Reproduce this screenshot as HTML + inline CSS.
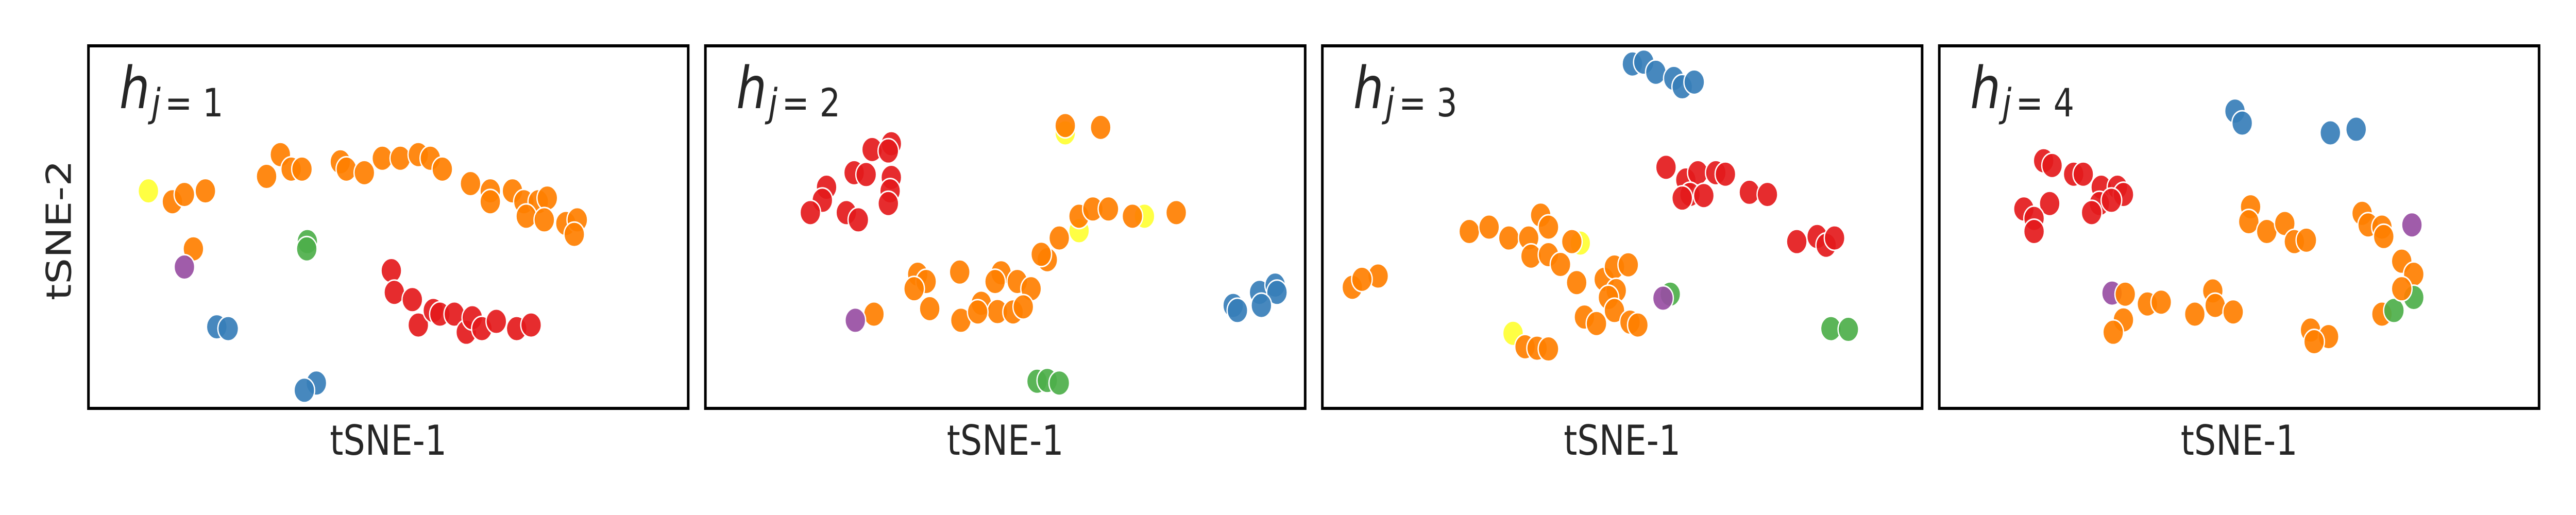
<!DOCTYPE html>
<html><head><meta charset="utf-8"><style>
html,body{margin:0;padding:0;background:#fff;width:100%;height:100%;overflow:hidden;}
svg{display:block;width:100%;height:100%;}
</style></head><body>
<svg id="fig" viewBox="0 0 6000 1000" preserveAspectRatio="none" xmlns="http://www.w3.org/2000/svg">
<text transform="translate(165,447) rotate(-90)" text-anchor="middle" font-family="DejaVu Sans, Liberation Sans, sans-serif" font-size="80" fill="#262626">tSNE-2</text>
</svg>
<script>
// Panel data: x/y in tSNE units (0-100), color class per point
const panelTitles = ['1','2','3','4'];
const colorClasses = ['red','blue','green','purple','orange','yellow'];
const p1x = [10,14,16,19.5,32,29.7,33.8,35.6,42,43,46,49,52,55,57,59,63.7,67,67,70.7,72.6,75,76.5,73,76,79.6,81.5,81,17.5,16,36.5,36.4,50.5,51,54,55,57.5,58.6,61,63,64,65.6,68,71.4,73.8,21.4,23.3,38,36];
const p1y = [60,57,59,60,70,64,66,66,68,66,65,69,69,70,69,66,62,60,57,60,57,57,58,53,52,51,52,48,44,39,46,44,38,32,30,23,27,26,26,21,25,22,24,22,23,22.5,22,7,5];
const p1c = ['yellow','orange','orange','orange','orange','orange','orange','orange','orange','orange','orange','orange','orange','orange','orange','orange','orange','orange','orange','orange','orange','orange','orange','orange','orange','orange','orange','orange','orange','purple','green','green','red','red','red','red','red','red','red','red','red','red','red','red','red','blue','blue','blue','blue'];
const p2x = [27.8,31,30.5,24.8,26.8,31,20.2,19.5,17.5,23.5,25.5,30.8,30.5,60,60,65.9,62.3,73.2,62.3,64.6,67.2,71.2,78.5,59,57,56,35.4,36.8,34.8,37.4,42.4,49.3,48.3,52,54.3,46,48.7,51.3,53,42.6,45.4,28.1,25,55.3,57,59,88,92.4,95,95.3,92.7,88.7];
const p2y = [71.4,73,71,65,64.5,63.7,61,57.4,54,54,52,60,56.5,76,78,77.5,49,53,53,55,55,53,54,47,41,42.5,37,35,33,27.5,37.6,37.4,35,35,33,29,26.7,26.6,28,24.3,26.6,26,24.3,7.5,7.7,7,28.4,32,34,32,28.4,27];
const p2c = ['red','red','red','red','red','red','red','red','red','red','red','red','red','yellow','orange','orange','yellow','yellow','orange','orange','orange','orange','orange','orange','orange','orange','orange','orange','orange','orange','orange','orange','orange','orange','orange','orange','orange','orange','orange','orange','orange','orange','purple','green','green','green','blue','blue','blue','blue','blue','blue'];
const p3x = [51.7,53.6,55.6,58.6,60,62,57.3,60.6,62.6,65.6,67.2,61.3,60,63.6,71.2,74.2,79.1,82.5,84,85.4,24.5,27.8,31.1,34.4,36.4,37.7,34.8,37.7,39.7,43,41.6,42.4,47,48.7,51,49,47.7,48.7,43.7,45.7,51.3,52.6,5,9.3,6.6,31.8,33.8,35.8,37.7,58,56.8,84.8,87.7];
const p3y = [95,95.5,92.7,91,88.7,90,66.5,63,65,65,64.6,59,58,58.7,59.6,59,46,47.4,45,47,48.8,50,47,47,53.3,50,42,42.4,39.7,45.6,46,34.7,35.6,39,39.6,32.5,30.6,27,25.2,23.4,23.8,23,33.4,36.5,35.6,20.7,17,16.6,16.4,31.5,30.4,22,21.8];
const p3c = ['blue','blue','blue','blue','blue','blue','red','red','red','red','red','red','red','red','red','red','red','red','red','red','orange','orange','orange','orange','orange','orange','orange','orange','orange','yellow','orange','orange','orange','orange','orange','orange','orange','orange','orange','orange','orange','orange','orange','orange','orange','yellow','orange','orange','orange','green','purple','green','green'];
const p4x = [49.3,50.5,65.2,69.5,17.4,18.8,22.4,24,27,29.7,30.7,26.7,25.4,28.7,18.4,14.1,15.8,15.8,51.9,51.6,54.6,57.6,59.2,61.2,70.5,71.5,73.8,74.1,78.8,77.1,79.1,73.8,79.1,75.8,77.1,28.8,31,34.7,37,30.7,29,45.6,46,49,42.6,61.9,64.9,62.5];
const p4y = [82,78.7,76,77,68.3,67,64.6,64.6,61,61,59,56.5,54,57.4,56.5,55,52.4,48.8,55.6,51.5,48.8,51,46,46.4,53.8,50.6,50,47.4,50.6,40.6,37,26,30.6,27,33,31.8,31.5,28.8,29.3,24.4,21,32.4,28.4,26.6,26,21.6,19.8,18.4];
const p4c = ['blue','blue','blue','blue','red','red','red','red','red','red','red','red','red','red','red','red','red','red','orange','orange','orange','orange','orange','orange','orange','orange','orange','orange','purple','orange','orange','orange','green','green','orange','purple','orange','orange','orange','orange','orange','orange','orange','orange','orange','orange','orange','orange'];

const palette = {red:'#e41a1c',blue:'#377eb8',green:'#4daf4a',purple:'#984ea3',orange:'#ff7f00',yellow:'#ffff33'};
const NS = 'http://www.w3.org/2000/svg';
const svg = document.getElementById('fig');
const PX0 = 206, PSTEP = 1437, PW = 1397, PY0 = 89, PH = 704;
const allX = [p1x,p2x,p3x,p4x], allY = [p1y,p2y,p3y,p4y], allC = [p1c,p2c,p3c,p4c];

function mk(tag, attrs){const e=document.createElementNS(NS,tag);for(const k in attrs)e.setAttribute(k,attrs[k]);return e;}

for(let i=0;i<4;i++){
  const left = PX0 + i*PSTEP;
  const sx = v => left + v/100*PW;
  const sy = v => PY0 + (1 - v/100)*PH;
  const g = mk('g',{});
  
  
  svg.appendChild(g);
  const clip = mk('clipPath',{id:'clip'+i});
  clip.appendChild(mk('rect',{x:left,y:PY0,width:PW,height:PH}));
  g.appendChild(clip);
  const pts = mk('g',{'clip-path':'url(#clip'+i+')'});
  
  
  g.appendChild(pts);
  const xs=allX[i], ys=allY[i], cs=allC[i];
  for(let k=0;k<xs.length;k++){
    const c = mk('circle',{cx:sx(xs[k]),cy:sy(ys[k]),r:24,fill:palette[cs[k]],'fill-opacity':0.92,stroke:'#fff','stroke-width':3});
    
    
    pts.appendChild(c);
  }
  const frame = mk('rect',{x:left,y:PY0,width:PW,height:PH,fill:'none',stroke:'#000','stroke-width':6});
  
  
  g.appendChild(frame);
  const t = mk('text',{x:left+72,y:210,'font-family':'DejaVu Sans, Liberation Sans, sans-serif',fill:'#262626'});
  
  
  t.innerHTML = '<tspan font-style="italic" font-size="112">h</tspan><tspan font-style="italic" font-size="76" dy="16" dx="4">j</tspan><tspan font-size="76" dx="10">= '+panelTitles[i]+'</tspan>';
  g.appendChild(t);
  const xl = mk('text',{x:left+PW/2,y:883,'text-anchor':'middle','font-family':'DejaVu Sans, Liberation Sans, sans-serif','font-size':80,fill:'#262626'});
  
  
  xl.textContent='tSNE-1';
  g.appendChild(xl);
}
</script>
</body></html>
